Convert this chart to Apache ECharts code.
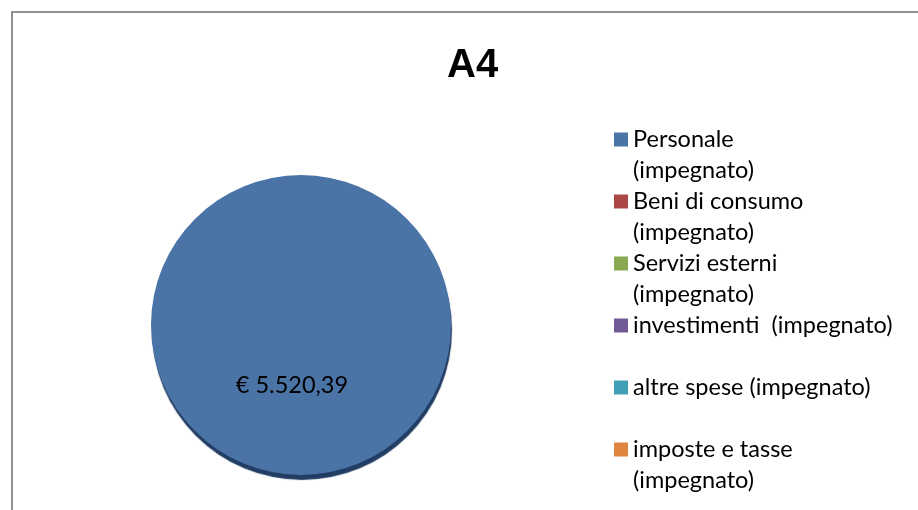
<!DOCTYPE html>
<html lang="it" style="height: 100%">

<head>
  <meta charset="utf-8">
</head>

<body style="height: 100%; margin: 0; background: #fff">
  <div id="frame" style="position: absolute; left: 11px; top: 11px; width: 920px; height: 520px; border-left: 2px solid #909090; border-top: 2px solid #909090; box-sizing: border-box"></div>
  <div id="container" style="position: absolute; left: 0; top: 0; width: 918px; height: 510px"></div>

  <script type="text/javascript" src="https://cdn.jsdelivr.net/npm/echarts@6.0.0/dist/echarts.min.js"></script>

  <script type="text/javascript">
    // voci di spesa (testo come nella legenda)
    var categories = [
      'Personale\n(impegnato)',
      'Beni di consumo\n(impegnato)',
      'Servizi esterni\n(impegnato)',
      'investimenti  (impegnato)',
      'altre spese (impegnato)',
      'imposte e tasse\n(impegnato)'
    ];
    // importi in euro
    var values = [5520.39, 0, 0, 0, 0, 0];
    var colors = ['#4a73a6', '#ab4744', '#8aa851', '#715a96', '#42a0b6', '#e0853f'];

    var FONT = 'Lato, "Open Sans", sans-serif';

    function euro(v) {
      var parts = v.toFixed(2).split('.');
      var int = parts[0].replace(/\B(?=(\d{3})+(?!\d))/g, '.');
      return '€ ' + int + ',' + parts[1];
    }

    var dom = document.getElementById('container');
    var myChart = echarts.init(dom, null, { renderer: 'canvas' });

    var option = {
      animation: false,
      color: colors,
      title: {
        text: 'A4',
        left: 447,
        top: 46,
        padding: 0,
        textStyle: {
          fontFamily: '"Liberation Sans", Arial, sans-serif',
          fontWeight: 'bold',
          fontSize: 40,
          color: '#000'
        }
      },
      legend: {
        orient: 'vertical',
        left: 614,
        top: 93,
        padding: 0,
        itemWidth: 14,
        itemHeight: 14,
        itemGap: -31,
        icon: 'rect',
        data: categories,
        // riga vuota in testa: la prima riga del testo resta allineata al quadratino
        formatter: function (name) {
          return ' \n' + (name.indexOf('\n') >= 0 ? name : name + '\n ');
        },
        textStyle: {
          fontFamily: FONT,
          fontSize: 23.5,
          lineHeight: 31,
          color: '#000'
        }
      },
      series: [
        {
          type: 'pie',
          center: [301, 325],
          radius: 150,
          startAngle: 90,
          data: categories.map(function (c, i) {
            return { name: c, value: values[i] };
          }),
          itemStyle: {
            borderWidth: 0,
            shadowColor: '#223d63',
            shadowOffsetX: 1,
            shadowOffsetY: 5,
            shadowBlur: 1
          },
          label: {
            show: true,
            position: 'center',
            fontFamily: FONT,
            fontSize: 23.5,
            lineHeight: 30,
            color: '#000',
            formatter: function (p) {
              // etichetta spostata in basso e a sinistra come nell'originale
              return p.value > 0 ? '\n\n\n\n' + euro(p.value) + '   ' : '';
            }
          },
          labelLine: { show: false },
          emphasis: { disabled: true }
        }
      ]
    };

    myChart.setOption(option);
    window.addEventListener('resize', myChart.resize);
  </script>
</body>

</html>
